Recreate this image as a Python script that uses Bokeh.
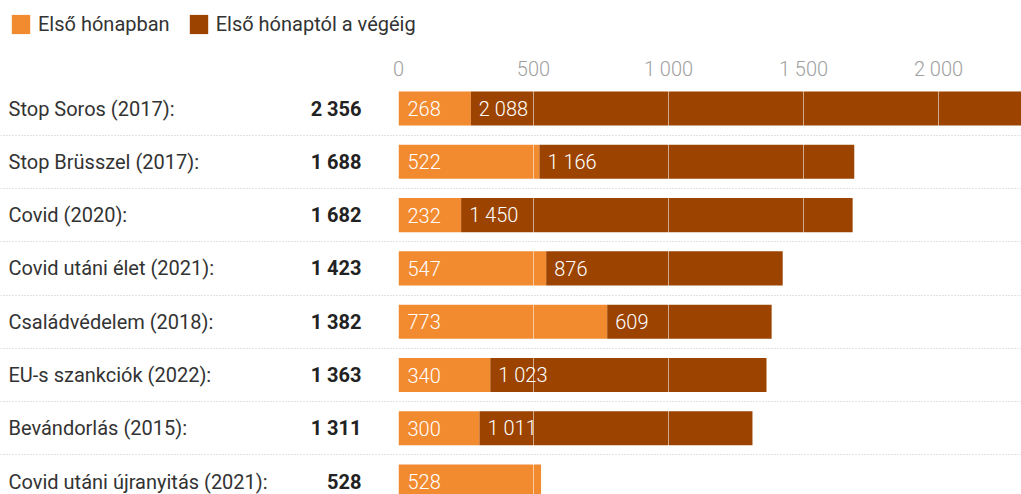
from bokeh.plotting import figure
from bokeh.layouts import column
from bokeh.models import (Range1d, LinearAxis, FixedTicker, Legend, LegendItem,
                          ColumnDataSource, Grid)
from bokeh.core.properties import value
from bokeh.embed import file_html
from bokeh.resources import INLINE

categories = ["Stop Soros (2017):", "Stop Brüsszel (2017):", "Covid (2020):",
              "Covid utáni élet (2021):", "Családvédelem (2018):",
              "EU-s szankciók (2022):", "Bevándorlás (2015):",
              "Covid utáni újranyitás (2021):"]
first_month = [268, 522, 232, 547, 773, 340, 300, 528]
after_first = [2088, 1166, 1450, 876, 609, 1023, 1011, 0]
tick_values = [0, 500, 1000, 1500, 2000]
tick_labels = ["0", "500", "1 000", "1 500", "2 000"]
series_names = ["Első hónapban", "Első hónaptól a végéig"]

ORANGE = "#f28a30"
BROWN = "#9c4300"
FONT = value("Roboto")
LIGHT = "'Roboto Light', Roboto"


def fmt(v):
    return f"{v:,}".replace(",", " ")


n = len(categories)
idx = list(range(n))
totals = [a + b for a, b in zip(first_month, after_first)]

W = 1021
LEG_H = 48
H = 494 - LEG_H
PX_PER_UNIT = 0.27
ZERO_PX = 398
x0 = -ZERO_PX / PX_PER_UNIT
x1 = x0 + W / PX_PER_UNIT
TOP = 37
ROW = 53.3
y_top = -(23.0 / ROW)
y_bot = y_top + (H - TOP) / ROW

# ---- legend strip ----
lf = figure(width=W, height=LEG_H, x_range=Range1d(0, 1), y_range=Range1d(0, 1),
            output_backend="svg", toolbar_location=None, min_border=0,
            x_axis_location=None, y_axis_location=None, outline_line_color=None)
for g in list(lf.grid):
    g.visible = False
hidden = ColumnDataSource(dict(y=[-5], l=[0], r=[1]))
lr1 = lf.hbar(y="y", left="l", right="r", height=1, source=hidden, fill_color=ORANGE, line_color=None)
lr2 = lf.hbar(y="y", left="l", right="r", height=1, source=hidden, fill_color=BROWN, line_color=None)
legend = Legend(items=[LegendItem(label=series_names[0], renderers=[lr1]),
                       LegendItem(label=series_names[1], renderers=[lr2])],
                orientation="horizontal", location=(9, 12),
                glyph_width=23, glyph_height=24, label_height=24,
                label_text_font="Roboto", label_text_font_size="20px",
                label_text_color="#333333", label_standoff=6, spacing=17,
                padding=0, margin=0, border_line_color=None, background_fill_alpha=0)
lf.add_layout(legend)

# ---- main chart ----
p = figure(width=W, height=H, x_range=Range1d(x0, x1), y_range=Range1d(y_bot, y_top),
           output_backend="svg", toolbar_location=None, min_border=0,
           min_border_top=TOP, x_axis_location=None, y_axis_location=None,
           outline_line_color=None)
for g in list(p.grid):
    g.visible = False

src = ColumnDataSource(dict(
    y=idx, cat=categories, first=first_month, after=after_first, total=totals,
    xs=[x0] * n,
    total_lbl=[fmt(t) for t in totals],
    first_lbl=[fmt(v) for v in first_month],
    after_lbl=[fmt(v) if v > 0 else "" for v in after_first],
))

p.hspan(y=[i + 0.5 for i in idx[:-1]], line_color="#c4c4c4", line_dash="1 2", line_width=1)

p.hbar(y="y", left=0, right="first", height=0.64, source=src,
       fill_color=ORANGE, line_color=None)
p.hbar(y="y", left="first", right="total", height=0.64, source=src,
       fill_color=BROWN, line_color=None)

p.text(x="xs", y="y", text="cat", source=src, x_offset=8, text_align="left",
       text_baseline="middle", text_font=FONT, text_font_size="20px", text_color="#333333")
p.text(x=0, y="y", text="total_lbl", source=src, x_offset=-37, text_align="right",
       text_baseline="middle", text_font=FONT, text_font_size="20px",
       text_font_style="bold", text_color="#222222")
p.text(x=0, y="y", text="first_lbl", source=src, x_offset=9, text_align="left",
       text_baseline="middle", text_font=value(LIGHT), text_font_size="20px", text_color="white")
p.text(x="first", y="y", text="after_lbl", source=src, x_offset=8, text_align="left",
       text_baseline="middle", text_font=value(LIGHT), text_font_size="20px", text_color="white")

grid = Grid(dimension=0, ticker=FixedTicker(ticks=tick_values), grid_line_color="white",
            grid_line_alpha=0.55, grid_line_width=1, level="overlay")
p.add_layout(grid)

ax = LinearAxis(ticker=FixedTicker(ticks=tick_values),
                major_label_overrides={v: l for v, l in zip(tick_values, tick_labels)},
                axis_line_color=None, major_tick_line_color=None,
                minor_tick_line_color=None, major_label_text_color="#a0a0a0",
                major_label_text_font=LIGHT, major_label_text_font_size="20px",
                major_label_standoff=-1)
p.add_layout(ax, "above")

layout = column(lf, p, spacing=0)
open("out.html", "w").write(file_html(layout, INLINE))
